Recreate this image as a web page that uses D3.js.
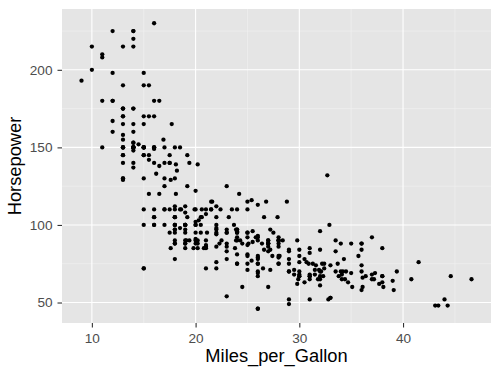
<!DOCTYPE html>
<html><head><meta charset="utf-8">
<script src="https://cdn.jsdelivr.net/npm/d3@7"></script>
<style>body{margin:0;background:#fff}svg{display:block}</style>
</head><body>
<svg id="c" width="500" height="375"></svg>
<script>
const mpg = [18,15,18,16,17,15,14,14,14,15,15,14,15,14,24,22,18,21,27,26,25,24,25,26,21,10,10,11,9,
27,28,25,19,16,17,19,18,14,14,14,14,12,13,13,18,22,19,18,23,28,30,30,31,35,27,26,24,25,23,20,21,
13,14,15,14,17,11,13,12,13,19,15,13,13,14,18,22,21,26,22,28,23,28,27,
13,14,13,14,15,12,13,13,14,13,12,13,18,16,18,18,23,26,11,12,13,12,18,20,21,22,18,19,21,26,15,16,29,24,20,19,15,24,20,11,
20,19,15,31,26,32,25,
16,16,18,16,13,14,14,14,29,26,26,31,32,28,24,26,24,26,31,
19,18,15,15,16,15,16,14,17,16,15,18,21,20,13,29,23,20,23,24,25,24,18,29,19,23,23,22,25,33,28,25,25,26,27,
17.5,16,15.5,14.5,22,22,24,22.5,29,24.5,29,33,20,18,18.5,17.5,29.5,32,28,26.5,20,13,19,19,16.5,16.5,13,13,13,31.5,30,36,25.5,33.5,
17.5,17,15.5,15,17.5,20.5,19,18.5,16,15.5,15.5,16,29,24.5,26,25.5,30.5,33.5,30,30.5,22,21.5,21.5,
43.1,36.1,32.8,39.4,36.1,19.9,19.4,20.2,19.2,20.5,20.2,25.1,20.5,19.4,20.6,20.8,18.6,18.1,19.2,17.7,18.1,17.5,30,27.5,27.2,30.9,21.1,23.2,23.8,23.9,20.3,17,21.6,16.2,31.5,29.5,
21.5,19.8,22.3,20.2,20.6,17,17.6,16.5,18.2,16.9,15.5,19.2,18.5,31.9,34.1,35.7,27.4,25.4,23,27.2,23.9,34.2,34.5,31.8,37.3,28.4,28.8,26.8,33.5,
41.5,38.1,32.1,37.2,28,26.4,24.3,19.1,34.3,29.8,31.3,37,32.2,46.6,27.9,40.8,44.3,43.4,36.4,30,44.6,33.8,29.8,32.7,23.7,35,32.4,
27.2,26.6,25.8,23.5,30,39.1,39,35.1,32.3,37,37.7,34.1,34.7,34.4,29.9,33,33.7,32.4,32.9,31.6,28.1,30.7,25.4,24.2,22.4,26.6,20.2,17.6,
28,27,34,31,29,27,24,36,37,31,38,36,36,36,34,38,32,38,25,38,26,22,32,36,27,27,44,32,28,31];
const horsepower = [130,165,150,150,140,198,220,215,225,190,170,160,150,225,95,95,97,85,88,46,87,90,95,113,90,215,200,210,193,
88,90,95,100,105,100,88,100,165,175,153,150,180,170,175,110,72,100,88,86,90,70,76,65,69,60,70,95,80,54,90,86,
165,175,150,153,150,208,155,160,190,97,150,130,140,150,112,76,87,69,86,92,97,80,88,
175,150,145,137,150,198,150,158,150,215,225,175,105,100,100,88,95,46,150,167,170,180,100,88,72,94,90,85,107,90,145,230,49,75,91,112,150,110,122,180,
95,100,100,67,80,65,75,
100,110,105,140,150,150,140,150,83,67,78,52,61,75,75,75,97,93,67,
95,105,72,72,170,145,150,148,110,105,110,95,110,110,129,75,83,100,78,96,71,97,97,70,90,95,88,98,115,53,86,81,92,79,83,
140,150,120,152,100,105,81,90,52,60,70,53,100,78,110,95,71,70,75,72,102,150,88,108,120,180,145,130,150,68,80,58,96,70,
145,110,145,130,110,105,100,98,180,170,190,149,78,88,75,89,63,83,67,78,97,110,110,
48,66,52,70,60,110,140,139,105,95,85,88,100,90,105,85,110,120,145,165,139,140,68,95,97,75,95,105,85,97,103,125,115,133,71,68,
115,85,88,90,110,130,129,138,135,155,142,125,150,71,65,80,80,77,125,71,90,70,70,65,69,90,115,115,90,
76,60,70,65,90,88,90,90,78,90,75,92,75,65,105,65,48,48,67,67,67,67,62,132,100,88,72,
84,84,92,110,84,58,64,60,67,65,62,68,63,65,65,74,75,75,100,74,80,76,116,120,110,105,88,85,
88,88,88,85,84,90,92,74,68,68,63,70,88,88,70,67,67,67,110,85,92,112,96,84,90,86,52,84,79,82];
const xTicks = [10,20,30,40];
const yTicks = [50,100,150,200];
const xMinor = [15,25,35,45];
const yMinor = [75,125,175,225];

const data = mpg.map((m,i)=>({x:m,y:horsepower[i]}));
const svg = d3.select("#c");
const L=62, R=491, T=9, B=323;
const xe = d3.extent(mpg), ye = d3.extent(horsepower);
const xp=(xe[1]-xe[0])*0.05, yp=(ye[1]-ye[0])*0.05;
const x = d3.scaleLinear().domain([xe[0]-xp, xe[1]+xp]).range([L,R]);
const y = d3.scaleLinear().domain([ye[0]-yp, ye[1]+yp]).range([B,T]);

svg.append("rect").attr("x",L).attr("y",T).attr("width",R-L).attr("height",B-T).attr("fill","#E5E5E5");
const g = svg.append("g");
g.selectAll(".vm").data(xMinor).join("line").attr("x1",d=>x(d)).attr("x2",d=>x(d)).attr("y1",T).attr("y2",B).attr("stroke","#F2F2F2").attr("stroke-width",0.6);
g.selectAll(".hm").data(yMinor).join("line").attr("y1",d=>y(d)).attr("y2",d=>y(d)).attr("x1",L).attr("x2",R).attr("stroke","#F2F2F2").attr("stroke-width",0.6);
g.selectAll(".vM").data(xTicks).join("line").attr("x1",d=>x(d)).attr("x2",d=>x(d)).attr("y1",T).attr("y2",B).attr("stroke","#fff").attr("stroke-width",1.1);
g.selectAll(".hM").data(yTicks).join("line").attr("y1",d=>y(d)).attr("y2",d=>y(d)).attr("x1",L).attr("x2",R).attr("stroke","#fff").attr("stroke-width",1.1);

svg.append("g").selectAll("circle").data(data).join("circle")
  .attr("cx",d=>x(d.x)).attr("cy",d=>y(d.y)).attr("r",2.15).attr("fill","#000");

const font = "'Liberation Sans', Arial, Helvetica, sans-serif";
const xa = svg.append("g").attr("transform",`translate(0,${B})`)
  .call(d3.axisBottom(x).tickValues(xTicks).tickSize(4.5).tickPadding(6));
const ya = svg.append("g").attr("transform",`translate(${L},0)`)
  .call(d3.axisLeft(y).tickValues(yTicks).tickSize(4.5).tickPadding(5));
[xa,ya].forEach(a=>{
  a.select(".domain").remove();
  a.attr("font-size",null).attr("font-family",null);
  a.selectAll(".tick line").attr("stroke","#333").attr("stroke-width",1.1);
  a.selectAll(".tick text").attr("fill","#4D4D4D").style("font-family",font).style("font-size","13.6px");
});

svg.append("text").attr("x",(L+R)/2).attr("y",362).attr("text-anchor","middle")
  .style("font-family",font).style("font-size","18.3px").attr("fill","#000").text("Miles_per_Gallon");
svg.append("text").attr("transform",`translate(21,${(T+B)/2}) rotate(-90)`).attr("text-anchor","middle")
  .style("font-family",font).style("font-size","18.3px").attr("fill","#000").text("Horsepower");
</script>
</body></html>
